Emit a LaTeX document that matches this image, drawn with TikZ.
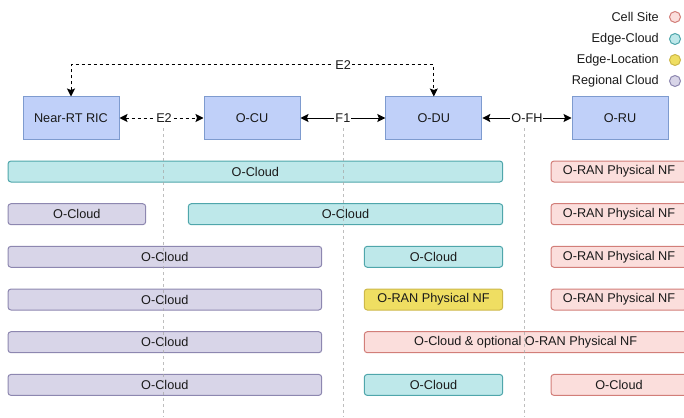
\documentclass[tikz,border=0pt]{standalone}
\usepackage{fontspec}
\setmainfont{Liberation Sans}
\usetikzlibrary{arrows.meta}
\definecolor{bluef}{HTML}{C0D0F9}
\definecolor{bluec}{HTML}{7E9BCF}
\definecolor{tealf}{HTML}{BEE8EA}
\definecolor{tealc}{HTML}{4FA6AB}
\definecolor{purpf}{HTML}{D8D5E8}
\definecolor{purpc}{HTML}{8D87B0}
\definecolor{pinkf}{HTML}{FBDEDC}
\definecolor{pinkc}{HTML}{D27E79}
\definecolor{yelf}{HTML}{EFDE62}
\definecolor{yelc}{HTML}{CDB84A}
\definecolor{txt}{HTML}{1A1A1A}
\definecolor{guide}{HTML}{A8A8A8}
\begin{document}
\begin{tikzpicture}[x=1pt,y=-1pt,
  font=\fontsize{12.7}{15}\selectfont, text=txt,
  nfbox/.style={draw=bluec, fill=bluef, minimum width=96pt, minimum height=42pt, inner sep=0pt, line width=1pt},
  bar/.style={rounded corners=3pt, minimum height=21pt, inner sep=0pt, line width=1pt},
  tealbar/.style={bar, draw=tealc, fill=tealf},
  purpbar/.style={bar, draw=purpc, fill=purpf},
  pinkbar/.style={bar, draw=pinkc, fill=pinkf},
  yelbar/.style={bar, draw=yelc, fill=yelf},
  lbl/.style={fill=white, inner sep=1pt},
  tip/.style={Stealth[length=8pt,width=8pt,inset=1.5pt]},
  iface/.style={line width=1pt, draw=black, {Stealth[length=8pt,width=8pt,inset=1.5pt]}-{Stealth[length=8pt,width=8pt,inset=1.5pt]}},
  dashiface/.style={iface, dash pattern=on 3pt off 3pt},
  guideline/.style={draw=guide, line width=1pt, dash pattern=on 3pt off 3pt, opacity=0.75},
  legtext/.style={anchor=east, inner sep=0pt},
  legdot/.style={circle, minimum size=11pt, inner sep=0pt, line width=1pt}
]
\useasboundingbox (0,0) rectangle (684,417);

% top row network functions
\node[nfbox] (ric) at (71,118) {Near-RT RIC};
\node[nfbox] (ocu) at (252,118) {O-CU};
\node[nfbox] (odu) at (433.8,118) {O-DU};
\node[nfbox] (oru) at (620,118) {O-RU};

% bars
\node[tealbar, minimum width=494.7pt] (r1a) at (255.35,171.5) {O-Cloud};
\node[pinkbar, minimum width=136pt]   (r1b) at (619,171.5) {O-RAN Physical NF};

\node[purpbar, minimum width=137.7pt] (r2a) at (76.85,214.2) {O-Cloud};
\node[tealbar, minimum width=314.4pt] (r2b) at (345.5,214.2) {O-Cloud};
\node[pinkbar, minimum width=136pt]   (r2c) at (619,214.2) {O-RAN Physical NF};

\node[purpbar, minimum width=313.7pt] (r3a) at (164.85,256.8) {O-Cloud};
\node[tealbar, minimum width=138.4pt] (r3b) at (433.5,256.8) {O-Cloud};
\node[pinkbar, minimum width=136pt]   (r3c) at (619,256.8) {O-RAN Physical NF};

\node[purpbar, minimum width=313.7pt] (r4a) at (164.85,299.5) {O-Cloud};
\node[yelbar, minimum width=138.4pt]  (r4b) at (433.5,299.5) {O-RAN Physical NF};
\node[pinkbar, minimum width=136pt]   (r4c) at (619,299.5) {O-RAN Physical NF};

\node[purpbar, minimum width=313.7pt] (r5a) at (164.85,342.2) {O-Cloud};
\node[pinkbar, minimum width=322.7pt] (r5b) at (525.65,342.2) {O-Cloud \& optional O-RAN Physical NF};

\node[purpbar, minimum width=313.7pt] (r6a) at (164.85,384.9) {O-Cloud};
\node[tealbar, minimum width=138.4pt] (r6b) at (433.5,384.9) {O-Cloud};
\node[pinkbar, minimum width=136pt]   (r6c) at (619,384.9) {O-Cloud};

% interfaces
\draw[dashiface] (ric.east) -- node[lbl, pos=0.53] (e2a) {E2} (ocu.west);
\draw[iface] (ocu.east) -- node[lbl] (f1) {F1} (odu.west);
\draw[iface] (odu.east) -- node[lbl] (ofh) {O-FH} (oru.west);

\coordinate (t1) at (71,65);
\coordinate (t2) at (433.8,65);
\draw[dashiface] (ric.north) -- (t1) -- node[lbl, pos=0.75] (e2b) {E2} (t2) -- (odu.north);

% guide lines
\coordinate (g1t) at (163,128);
\coordinate (g1b) at (163,417);
\coordinate (g2t) at (343,128);
\coordinate (g2b) at (343,417);
\coordinate (g3t) at (524,128);
\coordinate (g3b) at (524,417);
\draw[guideline] (g1t) -- (g1b);
\draw[guideline] (g2t) -- (g2b);
\draw[guideline] (g3t) -- (g3b);

% legend
\node[legtext] (l1) at (659,17) {Cell Site};
\node[legtext] (l2) at (659,39) {Edge-Cloud};
\node[legtext] (l3) at (659,60) {Edge-Location};
\node[legtext] (l4) at (659,81) {Regional Cloud};
\node[legdot, draw=pinkc, fill=pinkf] (d1) at (675,17) {};
\node[legdot, draw=tealc, fill=tealf] (d2) at (675,39) {};
\node[legdot, draw=yelc, fill=yelf]   (d3) at (675,60) {};
\node[legdot, draw=purpc, fill=purpf] (d4) at (675,81) {};
\end{tikzpicture}
\end{document}
